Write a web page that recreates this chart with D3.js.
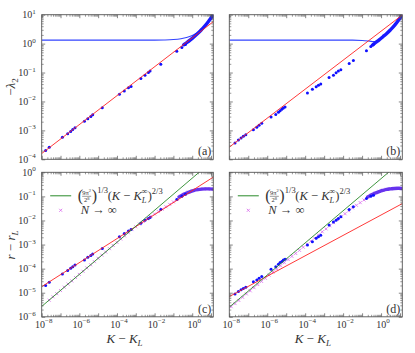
<!DOCTYPE html>
<html>
<head>
<meta charset="utf-8">
<script src="https://cdn.jsdelivr.net/npm/d3@7"></script>
<style>
body { margin: 0; background: #fff; }
svg { display: block; font-family: "Liberation Serif", "DejaVu Serif", serif; }
</style>
</head>
<body>
<svg id="chart" width="415" height="353"></svg>
<script>
// all values below are log10 of what is plotted

// panel (a) / (c): finite-N points, same K - K_L for both
const kA    = [-7.79,-7.60,-6.90,-6.62,-6.46,-6.35,-6.23,-5.73,-5.55,-5.39,-5.29,-4.78,-3.87,-3.61,-3.39,-3.25,-2.73,-2.51,-2.33,-2.24,-1.67,-0.82,-0.55,-0.36];
const lamA  = [-3.70,-3.58,-3.24,-3.12,-3.04,-2.97,-2.91,-2.68,-2.60,-2.52,-2.46,-2.22,-1.75,-1.64,-1.53,-1.48,-1.21,-1.09,-1.00,-0.95,-0.71,-0.26,-0.13,-0.03];
const rA    = [-4.70,-4.57,-4.22,-4.08,-3.98,-3.92,-3.85,-3.64,-3.53,-3.45,-3.39,-3.16,-2.68,-2.54,-2.44,-2.37,-2.12,-1.99,-1.92,-1.88,-1.54,-1.13,-0.99,-0.91];

// panel (b) / (d)
const kB    = [-7.70,-7.52,-7.38,-7.26,-7.13,-6.73,-6.55,-6.43,-6.29,-5.80,-5.55,-5.41,-5.32,-5.23,-5.15,-5.06,-3.88,-3.62,-3.42,-3.30,-3.18,-2.74,-2.51,-2.37,-2.25,-2.12,-1.68,-1.46,-0.77,-0.54,-0.40];
const lamB  = [-3.44,-3.33,-3.26,-3.20,-3.15,-2.98,-2.89,-2.82,-2.75,-2.54,-2.45,-2.37,-2.32,-2.27,-2.23,-2.19,-1.71,-1.58,-1.49,-1.44,-1.40,-1.17,-1.09,-1.01,-0.95,-0.90,-0.69,-0.58,-0.25,-0.10,-0.02];
const rB    = [-5.05,-4.95,-4.88,-4.83,-4.77,-4.54,-4.47,-4.40,-4.33,-4.03,-3.92,-3.82,-3.75,-3.70,-3.64,-3.61,-3.02,-2.88,-2.74,-2.68,-2.61,-2.19,-2.06,-1.99,-1.92,-1.85,-1.54,-1.43,-1.09,-0.99,-0.95];

// dense part of the finite-N data at large K
const bandK  = [-0.45,-0.3,-0.1,0.1,0.3,0.5,0.7,0.9,1.12];
const bandAv = [-0.04,0.03,0.13,0.24,0.36,0.49,0.63,0.80,1.0];
const bandBv = [-0.05,0.03,0.13,0.24,0.35,0.48,0.62,0.79,1.0];
const bandK2 = [-0.7,-0.5,-0.3,-0.1,0.1,0.3,0.5,0.7,0.9,1.12];
const bandCv = [-1.02,-0.93,-0.86,-0.80,-0.75,-0.72,-0.70,-0.69,-0.69,-0.70];
const bandDv = [-1.02,-0.93,-0.86,-0.80,-0.75,-0.71,-0.69,-0.67,-0.66,-0.67];

// the other eigenvalue branch (thin blue curve)
const curveAk = [-8,-2,-1.5,-1.0,-0.6,-0.3,0.0,0.2];
const curveAv = [0.12,0.12,0.125,0.14,0.17,0.21,0.28,0.35];
const curveBk = [-8,-1.5,-1.0,-0.6,-0.4,-0.25,-0.1];
const curveBv = [0.12,0.12,0.11,0.085,0.07,0.07,0.12];

// fitted power laws (end points)
const redAk = [-8,1.12], redAv = [-3.80,0.76];
const redBk = [-8,1.12], redBv = [-3.58,0.99];
const redCk = [-8,1.12], redCv = [-4.75,-0.20];
const redDk = [-8,1.12], redDv = [-5.16,-1.30];
const greenCk = [-8,0.5], greenCv = [-5.57,0.09];
const greenDk = [-8,0.5], greenDv = [-5.60,0.07];

// N -> infinity
const infCk = [-7.6,-7.4,-7.2,-7.0,-6.8,-6.6,-6.4,-6.2,-6.0,-5.8,-5.6,-5.4,-5.2,-5.0,-4.8,-4.6,-4.4,-4.2,-4.0,-3.8,-3.6,-3.4,-3.2,-3.0,-2.8,-2.6,-2.4,-2.2,-2.0,-1.8,-1.6,-1.4,-1.2,-1.0,-0.8,-0.6,-0.4,-0.2,0.0,0.2,0.4,0.6,0.8,1.0];
const infCv = [-5.31,-5.17,-5.04,-4.91,-4.77,-4.64,-4.51,-4.37,-4.24,-4.11,-3.97,-3.84,-3.71,-3.57,-3.44,-3.31,-3.17,-3.04,-2.91,-2.77,-2.64,-2.51,-2.38,-2.26,-2.15,-2.04,-1.93,-1.83,-1.73,-1.63,-1.53,-1.43,-1.33,-1.23,-1.12,-1.00,-0.90,-0.82,-0.76,-0.72,-0.70,-0.69,-0.69,-0.70];
const infDk = [-7.9,-7.7,-7.5,-7.3,-7.1,-6.9,-6.7,-6.5,-6.3,-6.1,-5.9,-5.7,-5.5,-5.3,-5.1,-4.9,-4.7,-4.5,-4.3,-4.1,-3.9,-3.7,-3.5,-3.3,-3.1,-2.9,-2.7,-2.5,-2.3,-2.1,-1.9,-1.7,-1.5,-1.3,-1.1,-0.9,-0.7,-0.5,-0.3,-0.1,0.1,0.3,0.5,0.7,0.9,1.1];
const infDv = [-5.58,-5.45,-5.32,-5.19,-5.05,-4.92,-4.79,-4.66,-4.53,-4.40,-4.27,-4.14,-4.01,-3.88,-3.75,-3.62,-3.49,-3.37,-3.24,-3.11,-2.99,-2.86,-2.73,-2.60,-2.47,-2.35,-2.22,-2.09,-1.96,-1.84,-1.72,-1.60,-1.48,-1.37,-1.26,-1.15,-1.04,-0.94,-0.86,-0.79,-0.74,-0.70,-0.68,-0.67,-0.67,-0.67];

const xTickLabels = [-8,-6,-4,-2,0];
const yTopTicks = [-4,-3,-2,-1,0,1];
const yBotTicks = [-6,-5,-4,-3,-2,-1,0];

const svg = d3.select("#chart");
const pw = 10**1.12;

const panels = [
	{id:"a", x0:41.7, x1:213.3, y0:14.7, y1:159.3, yd:[1e-4,10], yt:yTopTicks, showY:true,  showX:false},
	{id:"b", x0:229.3, x1:402.3, y0:14.7, y1:159.3, yd:[1e-4,10], yt:yTopTicks, showY:false, showX:false},
	{id:"c", x0:41.7, x1:213.3, y0:172.3, y1:316.8, yd:[1e-6,1], yt:yBotTicks, showY:true,  showX:true},
	{id:"d", x0:229.3, x1:402.3, y0:172.3, y1:316.8, yd:[1e-6,1], yt:yBotTicks, showY:false, showX:true}
];

function zip(k, v) {
	return k.map((d,i) => [10**d, 10**v[i]]);
}

function minors(lo, hi) {
	let res = [];
	for (let e=lo; e<hi; e++) {
		for (let m=2; m<10; m++) res.push(m*10**e);
	}
	return res;
}

function power_label(sel, e) {
	sel.append("tspan").text("10");
	sel.append("tspan").attr("dy", -4.5).attr("font-size", 7).text(e < 0 ? "\u2212" + (-e) : e);
}

function draw_frame(p, x, y) {
	let g = svg.append("g");
	let w = p.x1 - p.x0, h = p.y1 - p.y0;
	let decs = d3.range(-8, 2).map(e => 10**e);
	let xmin = minors(-8, 2).filter(d => d <= pw);
	let ydecs = p.yt.map(e => 10**e);
	let ymin = minors(p.yt[0], p.yt[p.yt.length-1]);

	let axes = [
		[d3.axisBottom(x), decs, xmin, "translate(0," + p.y1 + ")"],
		[d3.axisTop(x), decs, xmin, "translate(0," + p.y0 + ")"],
		[d3.axisLeft(y), ydecs, ymin, "translate(" + p.x0 + ",0)"],
		[d3.axisRight(y), ydecs, ymin, "translate(" + p.x1 + ",0)"]
	];
	for (let [ax, major, minor, tr] of axes) {
		g.append("g").attr("transform", tr)
		 .call(ax.tickValues(major).tickSize(-3.5).tickFormat(""))
		 .call(s => s.select(".domain").remove())
		 .selectAll("line").attr("stroke", "#555").attr("stroke-width", 0.7);
		let ax2 = ax.scale().copy();
		g.append("g").attr("transform", tr)
		 .call(ax.tickValues(minor).tickSize(-2).tickFormat(""))
		 .call(s => s.select(".domain").remove())
		 .selectAll("line").attr("stroke", "#555").attr("stroke-width", 0.6);
	}

	g.append("rect")
	 .attr("x", p.x0).attr("y", p.y0).attr("width", w).attr("height", h)
	 .attr("fill", "none").attr("stroke", "#555").attr("stroke-width", 0.9);

	if (p.showY) {
		for (let e of p.yt) {
			g.append("text")
			 .attr("x", p.x0 - 6).attr("y", y(10**e) + 3.5)
			 .attr("text-anchor", "end").attr("font-size", 10).attr("fill", "#333")
			 .call(power_label, e);
		}
	}
	if (p.showX) {
		for (let e of xTickLabels) {
			g.append("text")
			 .attr("x", x(10**e) + 2).attr("y", p.y1 + 11)
			 .attr("text-anchor", "middle").attr("font-size", 10).attr("fill", "#333")
			 .call(power_label, e);
		}
	}

	g.append("text")
	 .attr("x", p.x1 - 2).attr("y", p.y1 - 4)
	 .attr("text-anchor", "end").attr("font-size", 12).attr("fill", "#333")
	 .text("(" + p.id + ")");
}

const line = d3.line();

for (let p of panels) {
	let x = d3.scaleLog().domain([1e-8, pw]).range([p.x0, p.x1]);
	let y = d3.scaleLog().domain(p.yd).range([p.y1, p.y0]);
	p.x = x; p.y = y;
	line.x(d => x(d[0])).y(d => y(d[1]));

	svg.append("defs").append("clipPath").attr("id", "clip-" + p.id)
	   .append("rect").attr("x", p.x0).attr("y", p.y0)
	   .attr("width", p.x1 - p.x0).attr("height", p.y1 - p.y0);

	let plot = svg.append("g").attr("clip-path", "url(#clip-" + p.id + ")");

	let dots, band, red, green = null, inf = null, curve = null;
	if (p.id == "a") { dots = zip(kA, lamA); band = zip(bandK, bandAv); red = zip(redAk, redAv); curve = zip(curveAk, curveAv); }
	if (p.id == "b") { dots = zip(kB, lamB); band = zip(bandK, bandBv); red = zip(redBk, redBv); curve = zip(curveBk, curveBv); }
	if (p.id == "c") { dots = zip(kA, rA); band = zip(bandK2, bandCv); red = zip(redCk, redCv); green = zip(greenCk, greenCv); inf = zip(infCk, infCv); }
	if (p.id == "d") { dots = zip(kB, rB); band = zip(bandK2, bandDv); red = zip(redDk, redDv); green = zip(greenDk, greenDv); inf = zip(infDk, infDv); }

	if (curve) {
		plot.append("path").datum(curve)
		    .attr("d", line.curve(d3.curveMonotoneX))
		    .attr("fill", "none").attr("stroke", "#3344ff").attr("stroke-width", 1.1);
		line.curve(d3.curveLinear);
	}

	if (inf) {
		plot.selectAll(".inf").data(inf).join("path")
		    .attr("class", "inf")
		    .attr("transform", d => "translate(" + x(d[0]) + "," + y(d[1]) + ")")
		    .attr("d", "M-1.5,-1.5L1.5,1.5M-1.5,1.5L1.5,-1.5")
		    .attr("stroke", "#dd77ee").attr("stroke-width", 0.9);
	}

	plot.append("path").datum(band)
	    .attr("d", line.curve(d3.curveMonotoneX))
	    .attr("fill", "none").attr("stroke", inf ? "#6633ee" : "#1a1aff")
	    .attr("stroke-width", 3.4).attr("stroke-linecap", "round");
	line.curve(d3.curveLinear);

	plot.selectAll(".dot").data(dots).join("circle")
	    .attr("class", "dot")
	    .attr("cx", d => x(d[0])).attr("cy", d => y(d[1]))
	    .attr("r", 1.5).attr("fill", "#1010ff");

	plot.append("path").datum(red).attr("d", line)
	    .attr("fill", "none").attr("stroke", "#ff2222").attr("stroke-width", 0.9);
	if (green) {
		plot.append("path").datum(green).attr("d", line)
		    .attr("fill", "none").attr("stroke", "#2a8a2a").attr("stroke-width", 0.9);
	}

	draw_frame(p, x, y);

	if (p.showX) {
		let legend = svg.append("g").attr("transform", "translate(" + p.x0 + "," + p.y0 + ")");
		legend.append("line").attr("x1", 8.5).attr("x2", 29.5).attr("y1", 23.5).attr("y2", 23.5)
		      .attr("stroke", "#2a8a2a").attr("stroke-width", 1);
		legend.append("path").attr("transform", "translate(19,38)")
		      .attr("d", "M-1.5,-1.5L1.5,1.5M-1.5,1.5L1.5,-1.5")
		      .attr("stroke", "#dd77ee").attr("stroke-width", 0.9);

		let s = 36, b = 27;
		let big = (t, dx) => legend.append("text").attr("x", s + dx).attr("y", b + 1.5)
		                           .attr("font-size", 16).attr("fill", "#333").text(t);
		big("(", 0);
		legend.append("text").attr("x", s + 9).attr("y", b - 4.5).attr("text-anchor", "middle")
		      .attr("font-size", 6.5).attr("fill", "#333")
		      .call(t => { t.append("tspan").text("9\u03c0"); t.append("tspan").attr("dy", -2.5).attr("font-size", 4.5).text("2"); });
		legend.append("line").attr("x1", s + 4.5).attr("x2", s + 13.5).attr("y1", b - 3).attr("y2", b - 3)
		      .attr("stroke", "#333").attr("stroke-width", 0.5);
		legend.append("text").attr("x", s + 9).attr("y", b + 3).attr("text-anchor", "middle")
		      .attr("font-size", 6.5).attr("fill", "#333")
		      .call(t => { t.append("tspan").text("2"); t.append("tspan").attr("dy", -2.5).attr("font-size", 4.5).text("8"); });
		big(")", 14);
		legend.append("text").attr("x", s + 19.5).attr("y", b - 6).attr("font-size", 8.5)
		      .attr("fill", "#333").text("1/3");

		let f = legend.append("text").attr("x", s + 30).attr("y", b + 1)
		              .attr("font-size", 12.5).attr("fill", "#333");
		f.append("tspan").text("(");
		f.append("tspan").attr("font-style", "italic").text("K");
		f.append("tspan").text(" \u2212 ");
		f.append("tspan").attr("font-style", "italic").text("K");
		f.append("tspan").attr("font-style", "italic").attr("font-size", 8.5).attr("dy", 3).text("L");
		f.append("tspan").attr("font-size", 8.5).attr("dx", -5).attr("dy", -9).text("\u221e");
		f.append("tspan").attr("dy", 6).text(")");
		f.append("tspan").attr("font-size", 8.5).attr("dy", -6).text("2/3");

		let n = legend.append("text").attr("x", s + 3).attr("y", b + 14.5)
		              .attr("font-size", 12.5).attr("fill", "#333");
		n.append("tspan").attr("font-style", "italic").text("N");
		n.append("tspan").text(" \u2192 \u221e");

		let xl = svg.append("text").attr("x", (p.x0 + p.x1) / 2 - 3).attr("y", 343)
		            .attr("text-anchor", "middle").attr("font-size", 13).attr("fill", "#333");
		xl.append("tspan").attr("font-style", "italic").text("K");
		xl.append("tspan").text(" \u2212 ");
		xl.append("tspan").attr("font-style", "italic").text("K");
		xl.append("tspan").attr("font-style", "italic").attr("font-size", 9).attr("dy", 3).text("L");
	}
}

// y labels
let yl1 = svg.append("text").attr("transform", "translate(15,87) rotate(-90)")
             .attr("text-anchor", "middle").attr("font-size", 13).attr("fill", "#333");
yl1.append("tspan").text("\u2212");
yl1.append("tspan").attr("font-style", "italic").text("\u03bb");
yl1.append("tspan").attr("font-size", 9).attr("dy", 3).text("2");

let yl2 = svg.append("text").attr("transform", "translate(15,245) rotate(-90)")
             .attr("text-anchor", "middle").attr("font-size", 13).attr("fill", "#333");
yl2.append("tspan").attr("font-style", "italic").text("r");
yl2.append("tspan").text(" \u2212 ");
yl2.append("tspan").attr("font-style", "italic").text("r");
yl2.append("tspan").attr("font-style", "italic").attr("font-size", 9).attr("dy", 3).text("L");
</script>
</body>
</html>
